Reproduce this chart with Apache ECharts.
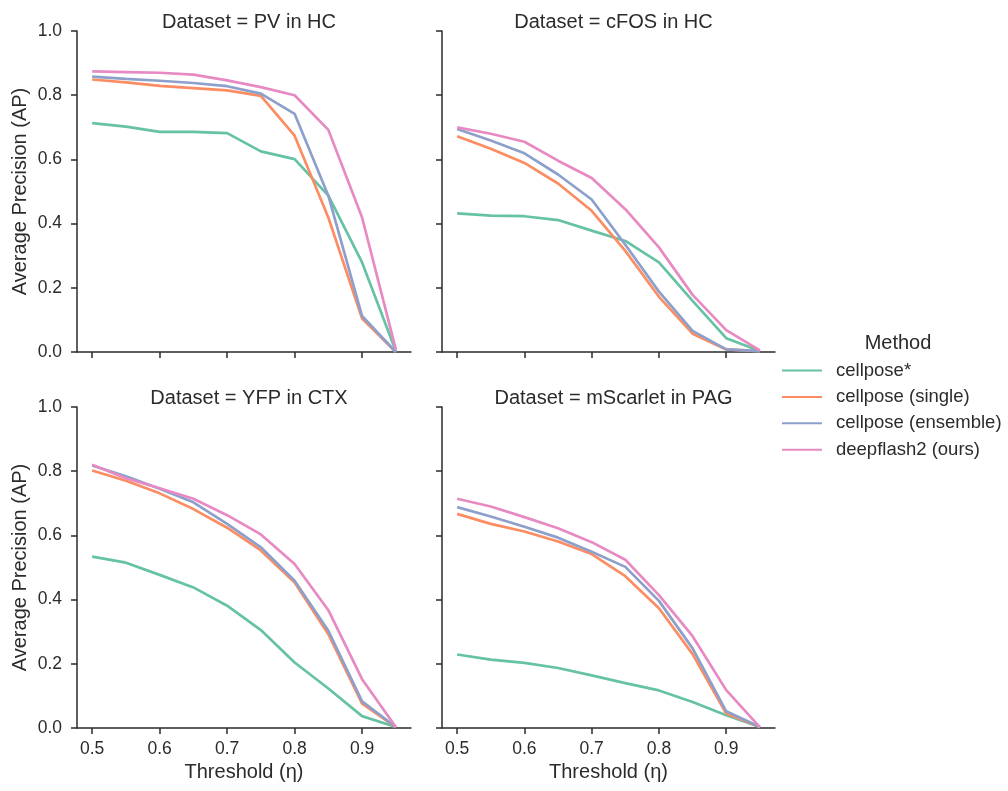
<!DOCTYPE html>
<html><head><meta charset="utf-8">
<script src="https://cdn.jsdelivr.net/npm/echarts@6/dist/echarts.min.js"></script>
<style>html,body{margin:0;padding:0;background:#fff}#c{width:1008px;height:791px}</style>
</head><body><div id="c"></div>
<script>
const thresholds = [0.5,0.55,0.6,0.65,0.7,0.75,0.8,0.85,0.9,0.95];
const xTicks = [0.5,0.6,0.7,0.8,0.9];
const yTicks = [0,0.2,0.4,0.6,0.8,1.0];
const methods = ['cellpose*','cellpose (single)','cellpose (ensemble)','deepflash2 (ours)'];
const datasets = ['PV in HC','cFOS in HC','YFP in CTX','mScarlet in PAG'];

const pv_cellposeStar = [0.713,0.702,0.686,0.686,0.682,0.625,0.601,0.487,0.279,0.003];
const pv_single       = [0.849,0.840,0.829,0.822,0.815,0.798,0.674,0.419,0.104,0.0];
const pv_ensemble     = [0.858,0.851,0.845,0.838,0.828,0.805,0.742,0.487,0.112,0.0];
const pv_deepflash    = [0.874,0.872,0.870,0.864,0.846,0.825,0.800,0.692,0.419,0.008];

const cfos_cellposeStar = [0.432,0.425,0.423,0.411,0.378,0.346,0.279,0.159,0.043,0.003];
const cfos_single       = [0.672,0.633,0.589,0.525,0.440,0.315,0.172,0.057,0.008,0.003];
const cfos_ensemble     = [0.695,0.659,0.619,0.553,0.475,0.334,0.188,0.066,0.008,0.003];
const cfos_deepflash    = [0.700,0.680,0.655,0.596,0.542,0.445,0.326,0.178,0.068,0.005];

const yfp_cellposeStar = [0.534,0.515,0.477,0.438,0.381,0.305,0.204,0.123,0.037,0.003];
const yfp_single       = [0.802,0.770,0.731,0.682,0.624,0.553,0.453,0.292,0.076,0.003];
const yfp_ensemble     = [0.818,0.784,0.745,0.703,0.636,0.563,0.459,0.303,0.083,0.003];
const yfp_deepflash    = [0.820,0.778,0.747,0.714,0.663,0.603,0.511,0.367,0.152,0.003];

const msc_cellposeStar = [0.229,0.213,0.203,0.187,0.164,0.140,0.117,0.081,0.040,0.003];
const msc_single       = [0.667,0.636,0.612,0.581,0.542,0.473,0.373,0.230,0.045,0.003];
const msc_ensemble     = [0.688,0.659,0.627,0.593,0.549,0.502,0.396,0.248,0.052,0.003];
const msc_deepflash    = [0.714,0.690,0.657,0.622,0.579,0.524,0.414,0.286,0.118,0.003];

const panelData = [
  [pv_cellposeStar,pv_single,pv_ensemble,pv_deepflash],
  [cfos_cellposeStar,cfos_single,cfos_ensemble,cfos_deepflash],
  [yfp_cellposeStar,yfp_single,yfp_ensemble,yfp_deepflash],
  [msc_cellposeStar,msc_single,msc_ensemble,msc_deepflash]
];
const colors = ['#66c2a5','#fc8d62','#8da0cb','#e78ac3'];
const FONT = '"Liberation Sans", Arial, sans-serif';
const TXT = '#2b2b2b';

const grids = [
  {left:77, top:31, width:334, height:321},
  {left:442, top:31, width:333, height:321},
  {left:77, top:407, width:334, height:321},
  {left:442, top:407, width:333, height:321}
];

const xAxes = [], yAxes = [], series = [], titles = [];
grids.forEach((g,i)=>{
  const bottomRow = i>=2, leftCol = i%2===0;
  xAxes.push({
    type:'value', gridIndex:i, min:0.4775, max:0.9725,
    splitLine:{show:false},
    axisLine:{show:true,lineStyle:{color:TXT,width:1.5}},
    axisTick:{show:true,length:6,lineStyle:{color:TXT,width:1.5},customValues:xTicks},
    axisLabel:{show:bottomRow,customValues:xTicks,formatter:v=>v.toFixed(1),fontFamily:FONT,fontSize:17.5,color:TXT,margin:12},
    name: bottomRow ? 'Threshold (η)' : '',
    nameLocation:'middle', nameGap:34,
    nameTextStyle:{fontFamily:FONT,fontSize:20,color:TXT}
  });
  yAxes.push({
    type:'value', gridIndex:i, min:0, max:1, interval:0.2,
    splitLine:{show:false},
    axisLine:{show:true,lineStyle:{color:TXT,width:1.5}},
    axisTick:{show:true,length:6,lineStyle:{color:TXT,width:1.5}},
    axisLabel:{show:leftCol,formatter:v=>v.toFixed(1),fontFamily:FONT,fontSize:17.5,color:TXT,margin:15},
    name: leftCol ? 'Average Precision (AP)' : '',
    nameLocation:'middle', nameGap:47, nameRotate:90,
    nameTextStyle:{fontFamily:FONT,fontSize:20,color:TXT}
  });
  titles.push({
    text:'Dataset = '+datasets[i],
    left: g.left + g.width/2, top: g.top - 24, textAlign:'center',
    textStyle:{fontFamily:FONT,fontSize:20,fontWeight:'normal',color:TXT}
  });
  panelData[i].forEach((arr,m)=>{
    series.push({
      name:methods[m], type:'line', xAxisIndex:i, yAxisIndex:i,
      data: thresholds.map((t,k)=>[t,arr[k]]),
      symbol:'none', smooth:false,
      lineStyle:{color:colors[m],width:2.7},
      itemStyle:{color:colors[m]},
      z: 2+m
    });
  });
});
titles.push({
  text:'Method', left:893, top:328, textAlign:'center',
  textStyle:{fontFamily:FONT,fontSize:20,fontWeight:'normal',color:TXT}
});

const chart = echarts.init(document.getElementById('c'), null, {renderer:'canvas'});
chart.setOption({
  animation:false,
  color:colors,
  title:titles,
  grid:grids,
  xAxis:xAxes,
  yAxis:yAxes,
  legend:{
    data:methods, orient:'vertical', left:777, top:356,
    itemWidth:40, itemHeight:19, itemGap:7.4,
    textStyle:{fontFamily:FONT,fontSize:18.5,color:TXT,padding:[0,0,0,9]},
    icon:'path://M0,5 L40,5 L40,7 L0,7 Z'
  },
  series:series
});
</script>
</body></html>
